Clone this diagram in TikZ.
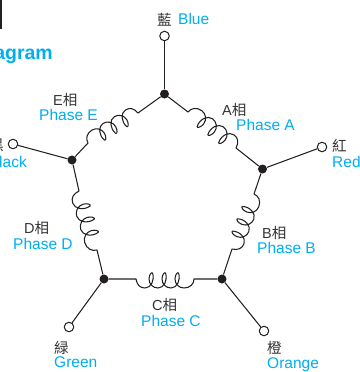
\documentclass[tikz,border=0pt]{standalone}
\usepackage{fontspec}
\setmainfont{Liberation Sans}
\newfontfamily\cjk{Noto Sans CJK TC}
\definecolor{cyanlabel}{HTML}{00AEEF}
\definecolor{darktext}{HTML}{333333}
\definecolor{wirecol}{HTML}{231F20}
\tikzset{
  wire/.style={draw=wirecol,line width=1.05pt,line join=round},
  hub/.style={circle,fill=wirecol,draw=none,minimum size=9pt,inner sep=0pt},
  term/.style={circle,fill=white,draw=wirecol,line width=1pt,minimum size=9.5pt,inner sep=0pt},
  en/.style={anchor=base west,inner sep=0pt,text=cyanlabel,font=\fontsize{15.5}{16}\selectfont},
  zh/.style={anchor=base west,inner sep=0pt,text=darktext,font=\fontsize{14.5}{16}\selectfont},
}
\newcommand\coilwire[6]{%
  \pgfmathsetmacro\cdx{(#5-#3)/58}%
  \pgfmathsetmacro\cdy{(#6-#4)/58}%
  \begin{scope}[shift={(#3,#4)},x={(\cdx pt,-\cdy pt)},y={(-\cdy pt,-\cdx pt)}]
    \draw[wire] (#1) -- (0,0)
      .. controls (1,6) and (4,9) .. (9,9)
      .. controls (15,9) and (19,1) .. (16.5,-6)
      .. controls (15.5,-7.5) and (13,-4) .. (13,0)
      .. controls (13,5) and (17,9) .. (22,9)
      .. controls (28,9) and (32,1) .. (29.5,-6)
      .. controls (28.5,-7.5) and (26,-4) .. (26,0)
      .. controls (26,5) and (30,9) .. (35,9)
      .. controls (41,9) and (45,1) .. (42.5,-6)
      .. controls (41.5,-7.5) and (39,-4) .. (39,0)
      .. controls (39,5) and (43,9) .. (48,9)
      .. controls (54,9) and (58,5) .. (58,0)
      -- (#2);
  \end{scope}}
\begin{document}
\begin{tikzpicture}[x=1pt,y=-1pt]
\useasboundingbox (0,0) rectangle (359,372);
\fill[wirecol] (0,0) rectangle (2,29);
\node[anchor=base east,inner sep=0pt,text=cyanlabel,font=\fontsize{19.5}{20}\bfseries\selectfont] (title) at (53,59) {Diagram};

\node[hub] (hblue) at (164.5,94) {};
\node[hub] (hblack) at (72,160) {};
\node[hub] (hred) at (262.5,169) {};
\node[hub] (hgreen) at (104,279) {};
\node[hub] (horange) at (222,279) {};

\node[term] (tblue) at (164.5,36) {};
\node[term] (tblack) at (13,144) {};
\node[term] (tred) at (322,147) {};
\node[term] (tgreen) at (69,327) {};
\node[term] (torange) at (264,331) {};

\draw[wire] (hblue) -- (tblue);
\draw[wire] (hblack) -- (tblack);
\draw[wire] (hred) -- (tred);
\draw[wire] (hgreen) -- (tgreen);
\draw[wire] (horange) -- (torange);

\coilwire{hgreen}{horange}{136}{279}{194}{279}
\coilwire{horange}{hred}{232}{249}{254}{194}
\coilwire{hred}{hblue}{236}{148}{188}{112}
\coilwire{hblue}{hblack}{138}{113}{88}{143}
\coilwire{hblack}{hgreen}{79}{191}{97}{250}

\node[zh] (lz1) at (157,25) {\cjk 藍};
\node[en] (le1) at (178,24) {Blue};
\node[zh] (lz2) at (53,105) {E{\cjk 相}};
\node[en] (le2) at (39,120) {Phase E};
\node[zh] (lz3) at (222,115) {A{\cjk 相}};
\node[en] (le3) at (236,130) {Phase A};
\node[zh] (lz4) at (332,151) {\cjk 紅};
\node[en] (le4) at (332,167) {Red};
\node[zh,anchor=base east] (lz5) at (4,150) {\cjk 黑};
\node[en,anchor=base east] (le5) at (27,167) {Black};
\node[zh] (lz6) at (24,233) {D{\cjk 相}};
\node[en] (le6) at (13,249) {Phase D};
\node[zh] (lz7) at (152,310) {C{\cjk 相}};
\node[en] (le7) at (141,326) {Phase C};
\node[zh] (lz8) at (262,238) {B{\cjk 相}};
\node[en] (le8) at (257,253) {Phase B};
\node[zh] (lz9) at (54,353) {\cjk 緑};
\node[en] (le9) at (54,367) {Green};
\node[zh] (lz10) at (267,353) {\cjk 橙};
\node[en] (le10) at (267,368) {Orange};
\end{tikzpicture}
\end{document}
